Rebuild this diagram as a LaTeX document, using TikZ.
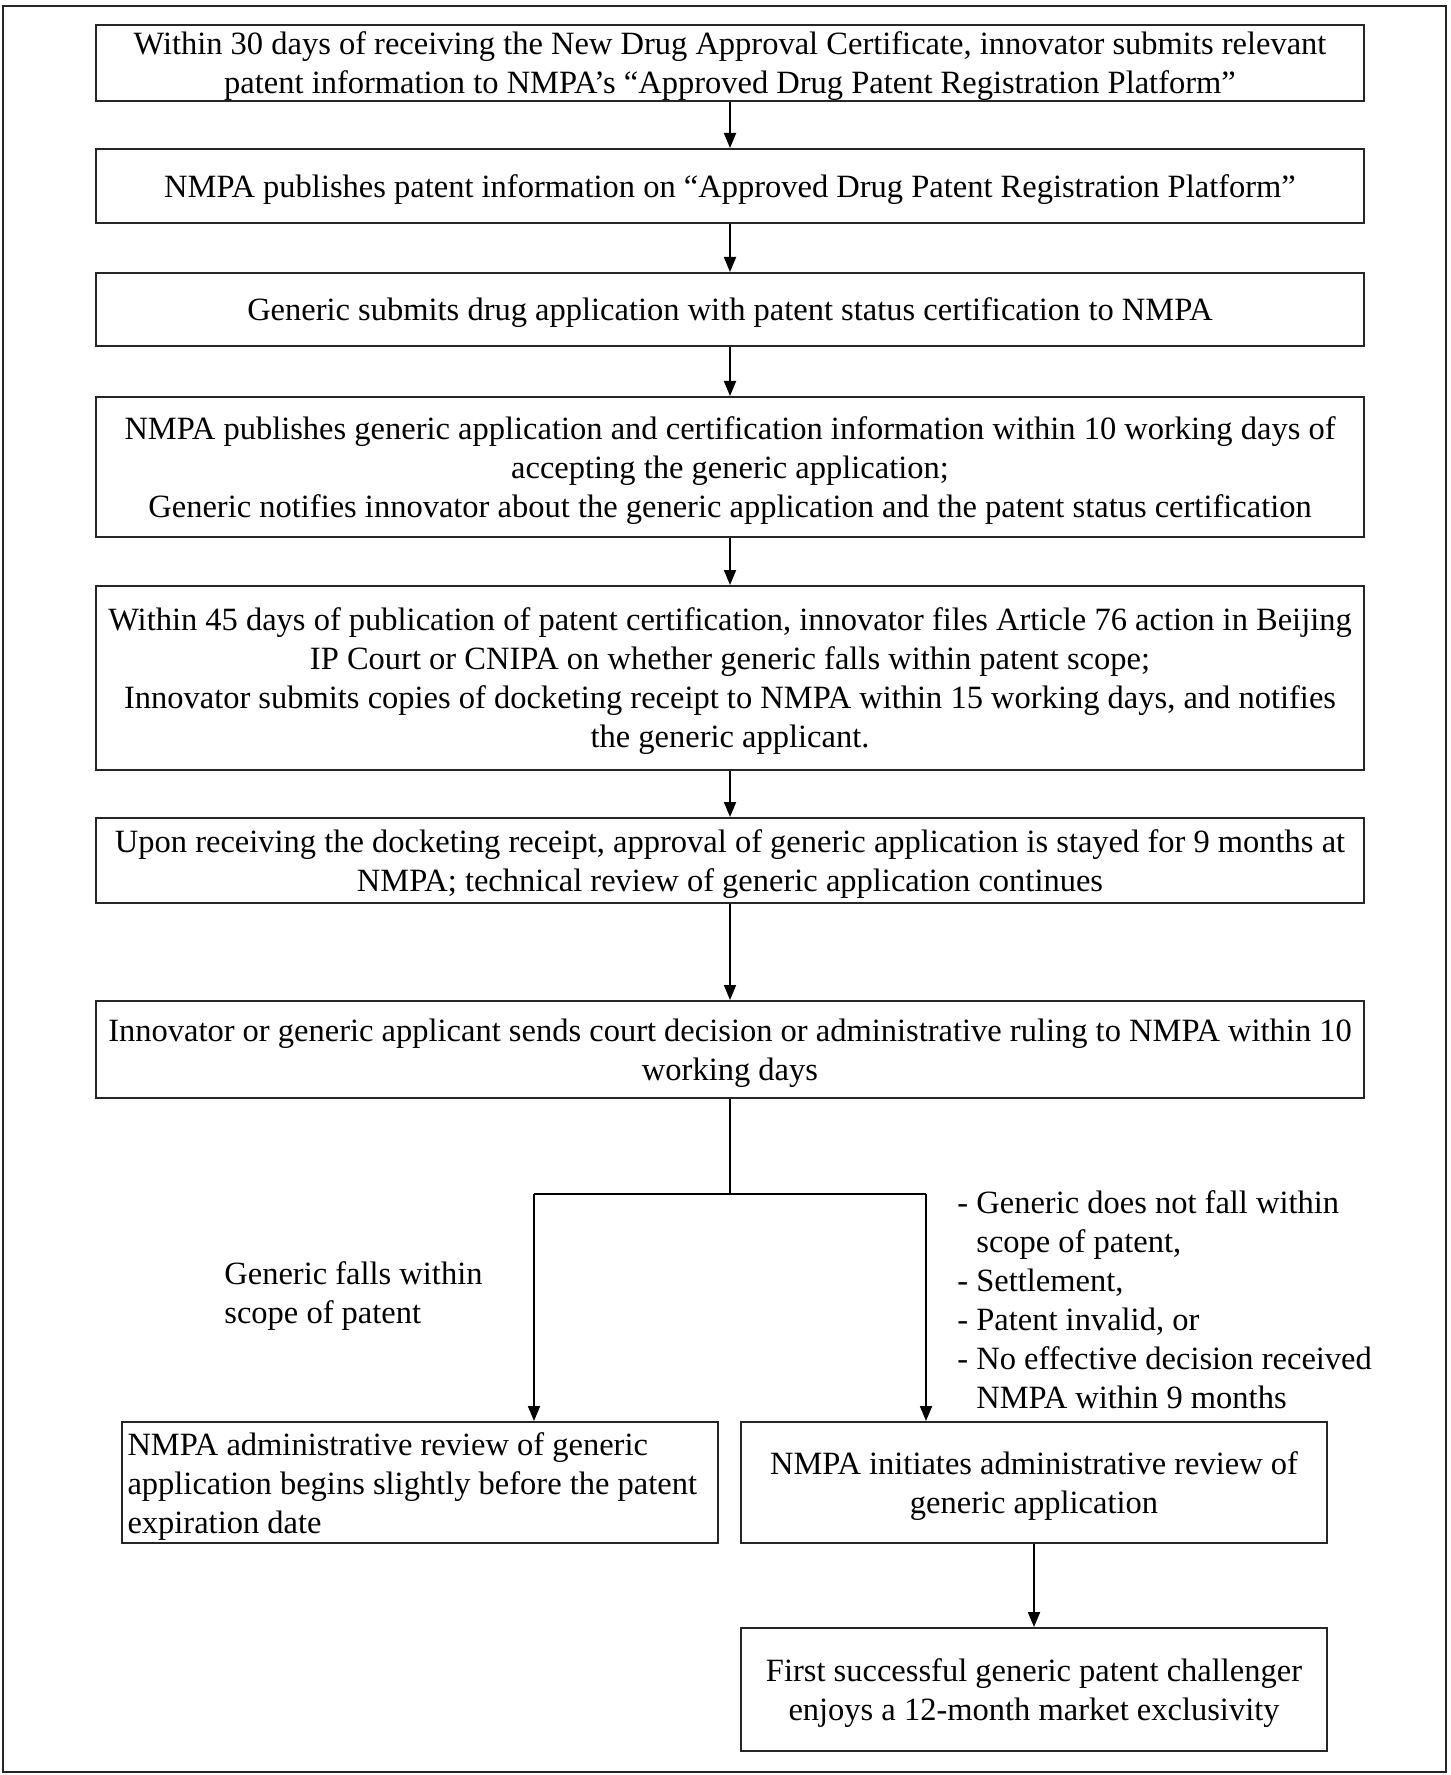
\documentclass[tikz,border=0pt]{standalone}
\usepackage{fontspec}
\setmainfont{Liberation Serif}
\usetikzlibrary{arrows.meta}
\newcommand{\fs}{\fontsize{16.25pt}{19.5pt}\selectfont}
\newcommand{\tup}{\rule{0pt}{15pt}}
\begin{document}
\begin{tikzpicture}[x=0.5pt,y=-0.5pt,
  box/.style={draw=black!85, line width=1pt, inner sep=0pt, align=center, font=\fs},
  mainbox/.style={box, minimum width=634pt},
  lbl/.style={inner sep=0pt, align=left, font=\fs, anchor=north west},
  arr/.style={draw=black, line width=0.9pt, -{Triangle[length=7.5pt,width=6pt]}},
  ln/.style={draw=black, line width=0.9pt}]
\useasboundingbox (0,0) rectangle (1450,1775);
\draw[line width=1.4pt, draw=black!85] (3,6) rectangle (1446,1772);

\node[mainbox, minimum height=37pt] (b1) at (730,63)
  {\tup Within 30 days of receiving the New Drug Approval Certificate, innovator submits relevant\\ patent information to NMPA’s “Approved Drug Patent Registration Platform”};
\node[mainbox, minimum height=37pt] (b2) at (730,186)
  {\tup NMPA publishes patent information on “Approved Drug Patent Registration Platform”};
\node[mainbox, minimum height=36.5pt] (b3) at (730,309.5)
  {\tup Generic submits drug application with patent status certification to NMPA};
\node[mainbox, minimum height=70pt] (b4) at (730,467)
  {\tup NMPA publishes generic application and certification information within 10 working days of\\ accepting the generic application;\\ Generic notifies innovator about the generic application and the patent status certification};
\node[mainbox, minimum height=92pt] (b5) at (730,678)
  {\tup Within 45 days of publication of patent certification, innovator files Article 76 action in Beijing\\ IP Court or CNIPA on whether generic falls within patent scope;\\ Innovator submits copies of docketing receipt to NMPA within 15 working days, and notifies\\ the generic applicant.};
\node[mainbox, minimum height=42.5pt] (b6) at (730,860.5)
  {\tup Upon receiving the docketing receipt, approval of generic application is stayed for 9 months at\\ NMPA; technical review of generic application continues};
\node[mainbox, minimum height=48.5pt] (b7) at (730,1049.5)
  {\tup Innovator or generic applicant sends court decision or administrative ruling to NMPA within 10\\ working days};

\node[box, align=flush left, text width=292pt, inner xsep=3pt, minimum height=60.5pt] (b8) at (419.5,1482.5)
  {\tup NMPA administrative review of generic\\ application begins slightly before the patent\\ expiration date};
\node[box, minimum width=293pt, minimum height=60.5pt] (b9) at (1034,1482.5)
  {\tup NMPA initiates administrative review of\\ generic application};
\node[box, minimum width=293pt, minimum height=61.5pt] (b10) at (1034,1689.5)
  {\tup First successful generic patent challenger\\ enjoys a 12-month market exclusivity};

\node[lbl] (lfall) at (224,1261)
  {Generic falls within\\ scope of patent};
\node[lbl] (lnot) at (957,1190)
  {- Generic does not fall within\\ \hphantom{- }scope of patent,\\ - Settlement,\\ - Patent invalid, or\\ - No effective decision received\\ \hphantom{- }NMPA within 9 months};

\coordinate (jc) at (730,1194);
\coordinate (jl) at (534,1194);
\coordinate (jr) at (926,1194);

\draw[arr] (b1) -- (b2);
\draw[arr] (b2) -- (b3);
\draw[arr] (b3) -- (b4);
\draw[arr] (b4) -- (b5);
\draw[arr] (b5) -- (b6);
\draw[arr] (b6) -- (b7);
\draw[ln] (b7.south) -- (jc);
\draw[ln] (jl) -- (jr);
\draw[arr] (jl) -- (jl |- b8.north);
\draw[arr] (jr) -- (jr |- b9.north);
\draw[arr] (b9) -- (b10);
\end{tikzpicture}
\end{document}
